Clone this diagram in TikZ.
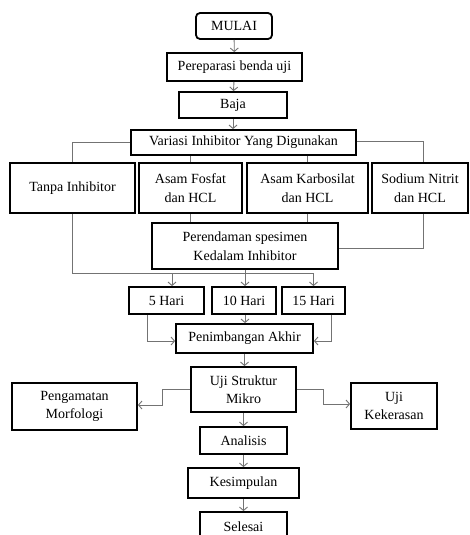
\documentclass[tikz,border=0pt]{standalone}
\usepackage{fontspec}
\setmainfont{Liberation Serif}
\usepackage{tikz}
\usetikzlibrary{arrows.meta,positioning,calc}

\begin{document}
\begin{tikzpicture}[
    x=1pt,y=-1pt,
    box/.style={rectangle,draw,line width=1.8pt,inner sep=0pt,align=center,
        font=\fontsize{14}{18.5}\selectfont},
    link/.style={draw=black!55,line width=0.9pt},
    arrow/.style={link,-{Straight Barb[length=3.5pt,width=8pt]}}
]
\useasboundingbox (0,0) rectangle (469,535);

% Steps
\node[box,rounded corners=4pt,minimum width=76pt,minimum height=26pt] (mulai) at (234,26) {MULAI};
\node[box,minimum width=135pt,minimum height=28pt] (prep) at (234.5,67) {Pereparasi\ benda uji};
\node[box,minimum width=108pt,minimum height=26pt] (baja) at (233,105) {Baja};
\node[box,minimum width=225pt,minimum height=25pt] (variasi) at (243.5,142.5) {Variasi Inhibitor Yang Digunakan};

% Inhibitors
\node[box,minimum width=125pt,minimum height=50pt] (tanpa) at (72.5,188) {Tanpa Inhibitor};
\node[box,minimum width=103pt,minimum height=50pt] (fosfat) at (190.5,188) {Asam Fosfat\\dan HCL};
\node[box,minimum width=121pt,minimum height=50pt] (karbo) at (307.5,188) {Asam Karbosilat\\dan HCL};
\node[box,minimum width=96pt,minimum height=50pt] (nitrit) at (420,188) {Sodium Nitrit\\dan HCL};

\node[box,minimum width=186pt,minimum height=46pt] (rendam) at (245,246) {Perendaman spesimen\\Kedalam Inhibitor};
\coordinate (jn) at (245,273);

% Days
\node[box,minimum width=75pt,minimum height=27pt] (h5) at (166.5,300.5) {5 Hari};
\node[box,minimum width=64pt,minimum height=27pt] (h10) at (244,300.5) {10 Hari};
\node[box,minimum width=63pt,minimum height=27pt] (h15) at (313.5,300.5) {15 Hari};

\node[box,minimum width=137pt,minimum height=29pt] (timbang) at (244.5,338.5) {Penimbangan Akhir};
\node[box,minimum width=105pt,minimum height=45pt] (mikro) at (243.5,389.5) {Uji Struktur\\Mikro};
\node[box,minimum width=125pt,minimum height=47pt] (morfo) at (74.5,406.5) {Pengamatan\\Morfologi};
\node[box,minimum width=86pt,minimum height=46pt] (keras) at (394,406) {Uji\\Kekerasan};
\node[box,minimum width=87pt,minimum height=27pt] (analisis) at (243.5,440.5) {Analisis};
\node[box,minimum width=111pt,minimum height=30pt] (simpul) at (243.5,483) {Kesimpulan};
\node[box,minimum width=87pt,minimum height=30pt] (selesai) at (243.5,527) {Selesai};

% Arrows
\draw[arrow] (mulai) -- (prep);
\draw[arrow] (prep) -- (baja);
\draw[arrow] (baja.south) -- (baja.south |- variasi.north);
\draw[link] (variasi.west) -| (tanpa.north);
\draw[link] ([yshift=1pt]variasi.east) -| ([xshift=3pt]nitrit.north);
\draw[link] (variasi.south -| fosfat.north) -- (fosfat.north);
\draw[link] (variasi.south -| karbo.north) -- (karbo.north);
\draw[link] (fosfat.south) -- (fosfat.south |- rendam.north);
\draw[link] (karbo.south) -- (karbo.south |- rendam.north);
\draw[link] ([xshift=3pt]nitrit.south) |- ([yshift=-2pt]rendam.east);
\draw[link] (tanpa.south) |- (h15.north |- jn);
\draw[link] (rendam.south) -- (jn);
\draw[arrow] ([xshift=5.5pt]h5.north |- jn) -- ([xshift=5.5pt]h5.north);
\draw[arrow] (jn) -- (jn |- h10.north);
\draw[arrow] (h15.north |- jn) -- (h15.north);
\draw[arrow] ([xshift=-19.5pt]h5.south) |- ([yshift=-2.5pt]timbang.west);
\draw[arrow] (h10.south -| jn) -- (jn |- timbang.north);
\draw[arrow] ([xshift=17.5pt]h15.south) |- ([yshift=-2.5pt]timbang.east);
\draw[arrow] (timbang) -- (timbang.south |- mikro.north);
\draw[arrow] (mikro.west) -- ++(-28,0) |- ([yshift=1.5pt]morfo.east);
\draw[arrow] (mikro.east) -- ++(27,0) |- ([yshift=2pt]keras.west);
\draw[arrow] (mikro) -- (mikro.south |- analisis.north);
\draw[arrow] (analisis) -- (simpul);
\draw[arrow] (simpul) -- (selesai);

\end{tikzpicture}
\end{document}
